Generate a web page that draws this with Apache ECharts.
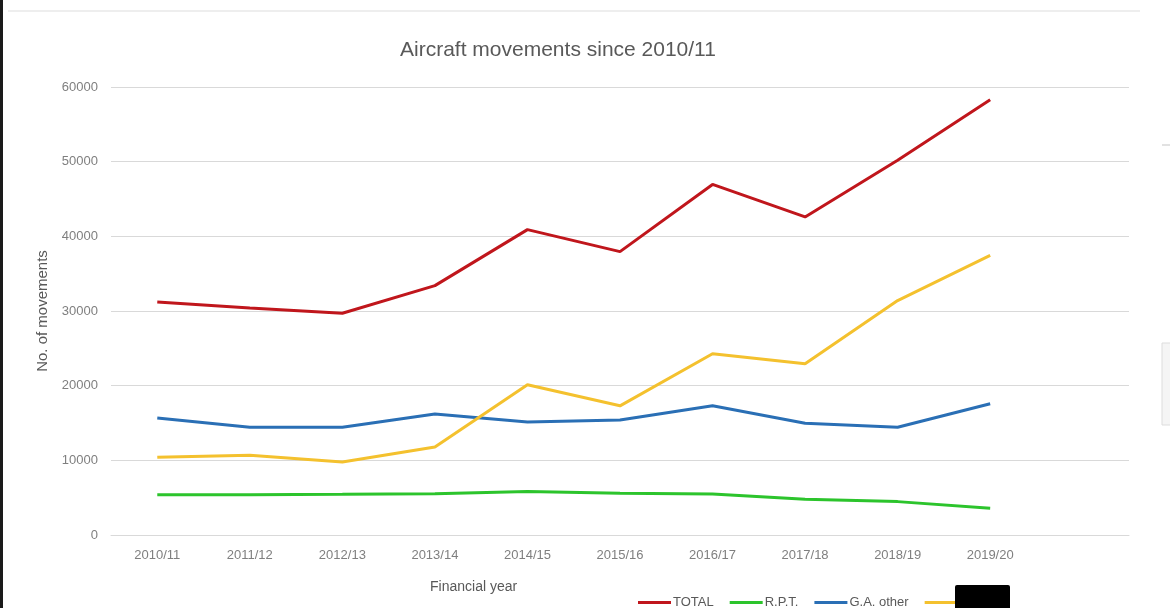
<!DOCTYPE html>
<html>
<head>
<meta charset="utf-8">
<title>Aircraft movements since 2010/11</title>
<script src="https://cdn.jsdelivr.net/npm/echarts@6/dist/echarts.min.js"></script>
<style>
  html, body { margin: 0; padding: 0; background: #ffffff; }
  #chart { width: 1170px; height: 608px; }
</style>
</head>
<body>
<div id="chart"></div>
<script>
// Financial years (a trailing empty slot leaves room at the right of the plot)
const years = ['2010/11', '2011/12', '2012/13', '2013/14', '2014/15',
               '2015/16', '2016/17', '2017/18', '2018/19', '2019/20', ''];

// Aircraft movements per financial year
const total   = [31200, 30400, 29700, 33400, 40900, 37950, 46950, 42600, 50200, 58300];
const rpt     = [5380, 5400, 5450, 5540, 5810, 5600, 5500, 4790, 4470, 3580];
const gaOther = [15660, 14430, 14430, 16200, 15130, 15400, 17310, 14960, 14430, 17580];
const other   = [10400, 10670, 9780, 11790, 20130, 17300, 24280, 22940, 31400, 37450];

// Value axis ticks
const yTicks = [0, 10000, 20000, 30000, 40000, 50000, 60000];

const FONT = '"Liberation Sans", Arial, sans-serif';
const GREY_TEXT = '#7f7f7f';

const chart = echarts.init(document.getElementById('chart'), null, { renderer: 'canvas' });

function lineSeries(name, data, color) {
  return {
    name: name,
    type: 'line',
    data: data,
    symbol: 'none',
    smooth: false,
    lineStyle: { color: color, width: 3 },
    itemStyle: { color: color },
    emphasis: { disabled: true }
  };
}

chart.setOption({
  backgroundColor: '#ffffff',
  animation: false,
  textStyle: { fontFamily: FONT },
  title: {
    text: 'Aircraft movements since 2010/11',
    left: 395,
    top: 35,
    textStyle: { fontFamily: FONT, fontSize: 21, fontWeight: 'normal', color: '#595959' }
  },
  grid: { left: 111, right: 41, top: 87, bottom: 73, containLabel: false },
  legend: {
    left: 633,
    top: 591,
    icon: 'rect',
    itemWidth: 33,
    itemHeight: 3,
    itemGap: 16,
    textStyle: { fontFamily: FONT, fontSize: 13, color: '#595959', padding: [0, 0, 0, -3] },
    data: ['TOTAL', 'R.P.T.', 'G.A. other', 'Other']
  },
  xAxis: {
    type: 'category',
    data: years,
    boundaryGap: true,
    axisLine: { show: true, lineStyle: { color: '#d9d9d9', width: 1 } },
    axisTick: { show: false },
    axisLabel: { fontFamily: FONT, fontSize: 13, color: GREY_TEXT, margin: 14, interval: 0 }
  },
  yAxis: {
    type: 'value',
    min: yTicks[0],
    max: yTicks[yTicks.length - 1],
    interval: yTicks[1] - yTicks[0],
    name: 'No. of movements',
    nameLocation: 'middle',
    nameGap: 61,
    nameRotate: 90,
    nameTextStyle: { fontFamily: FONT, fontSize: 15, color: '#595959' },
    axisLine: { show: false },
    axisTick: { show: false },
    splitLine: { show: true, lineStyle: { color: '#d9d9d9', width: 1 } },
    axisLabel: {
      fontFamily: FONT, fontSize: 13, color: GREY_TEXT, margin: 13,
      formatter: function (v) { return String(v); }
    }
  },
  series: [
    lineSeries('TOTAL', total, '#c0161c'),
    lineSeries('R.P.T.', rpt, '#2cc42c'),
    lineSeries('G.A. other', gaOther, '#2a6fb5'),
    lineSeries('Other', other, '#f4c12e')
  ],
  graphic: [
    // x-axis title
    {
      type: 'text',
      left: 430,
      top: 580,
      style: { text: 'Financial year', font: '14px ' + FONT, fill: '#595959' }
    },
    // left frame edge
    {
      type: 'rect',
      shape: { x: 0, y: 0, width: 3, height: 608 },
      style: { fill: '#1a1a1a' },
      z: 50
    },
    // faint top rule
    {
      type: 'line',
      shape: { x1: 8, y1: 11, x2: 1140, y2: 11 },
      style: { stroke: '#e8e8e8', lineWidth: 1.5 },
      z: 50
    },
    // small marks at the right edge
    {
      type: 'line',
      shape: { x1: 1162, y1: 145, x2: 1170, y2: 145 },
      style: { stroke: '#d8d8d8', lineWidth: 1.5 },
      z: 50
    },
    {
      type: 'rect',
      shape: { x: 1162, y: 343, width: 10, height: 82 },
      style: { fill: '#f5f5f5', stroke: '#dddddd', lineWidth: 1 },
      z: 50
    },
    // black block over the last legend label
    {
      type: 'rect',
      shape: { x: 955, y: 585, width: 55, height: 25, r: 2 },
      style: { fill: '#000000' },
      z: 100
    }
  ]
});
</script>
</body>
</html>
